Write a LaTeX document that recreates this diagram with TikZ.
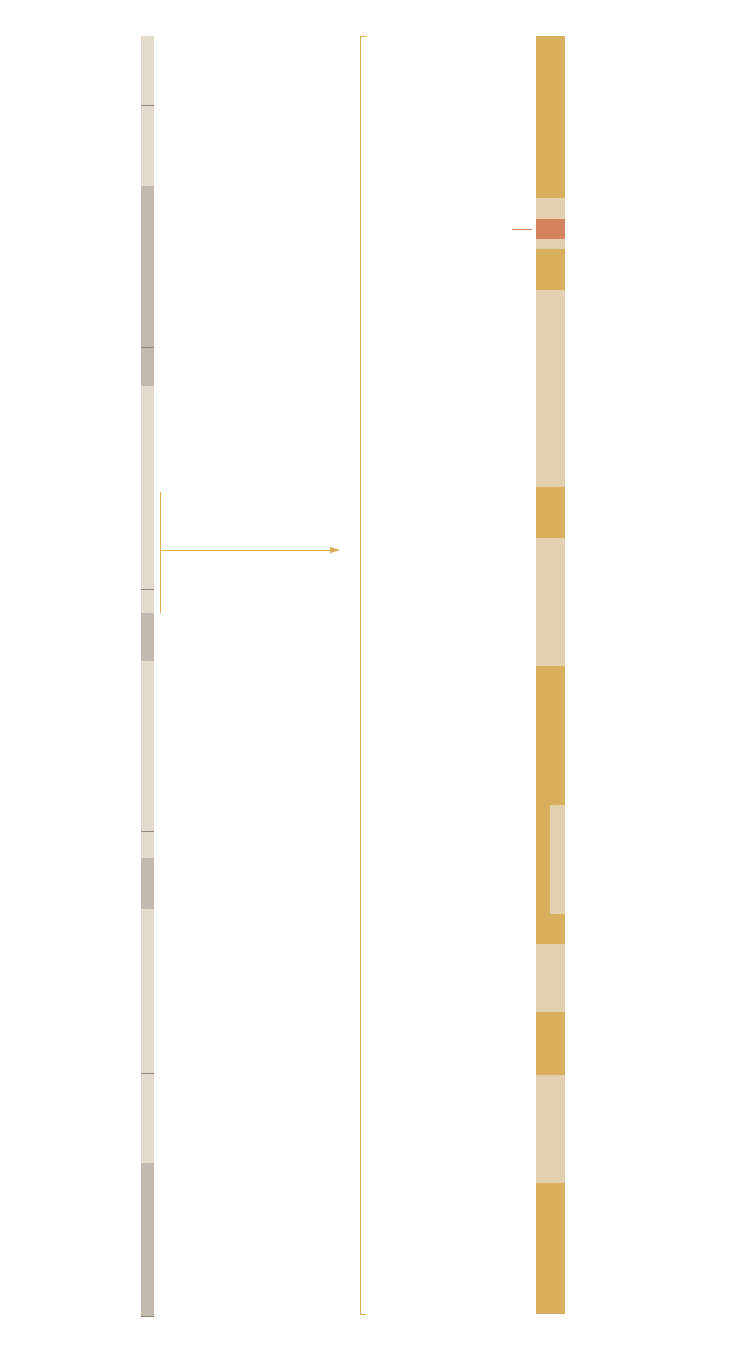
\documentclass[tikz,border=0pt]{standalone}
\usetikzlibrary{arrows.meta,calc}
\definecolor{lightL}{HTML}{E3DBCB}
\definecolor{grayL}{HTML}{C2BAAF}
\definecolor{tickL}{HTML}{8F877C}
\definecolor{goldR}{HTML}{D8AF5D}
\definecolor{lightR}{HTML}{E2D0B0}
\definecolor{redR}{HTML}{D4835E}
\definecolor{lineO}{HTML}{DDAE55}
\tikzset{
  segL/.style={fill=lightL,draw=none},
  segG/.style={fill=grayL,draw=none},
  segGold/.style={fill=goldR,draw=none},
  segLt/.style={fill=lightR,draw=none},
  segRed/.style={fill=redR,draw=none},
  tickline/.style={draw=tickL,line width=0.8pt},
  orange/.style={draw=lineO,line width=1pt},
}
\begin{document}
\begin{tikzpicture}[x=1pt,y=-1pt]
\useasboundingbox (0,0) rectangle (750,1366);
% left bar
\path[segL] (141,36) rectangle (154,186);
\path[segG] (141,186) rectangle (154,386);
\path[segL] (141,386) rectangle (154,613);
\path[segG] (141,613) rectangle (154,661);
\path[segL] (141,661) rectangle (154,858);
\path[segG] (141,858) rectangle (154,909);
\path[segL] (141,909) rectangle (154,1163);
\path[segG] (141,1163) rectangle (154,1316);
\foreach \yy in {105,347,589,831,1073,1316} \draw[tickline] (141,\yy) -- (154,\yy);
% bracket and arrow
\coordinate (bt) at (160,492);
\coordinate (bb) at (160,613);
\coordinate (bm) at (160,550);
\coordinate (at) at (340,550);
\draw[orange] (bt) -- (bb);
\draw[orange,-{Triangle[length=10pt,width=6pt]}] (bm) -- (at);
% middle bracket
\coordinate (mt) at (360,36);
\coordinate (mb) at (360,1314);
\draw[orange] ($(mt)+(6,0)$) -- (mt) -- (mb) -- ($(mb)+(6,0)$);
% right bar
\path[segGold] (536,36) rectangle (565,198);
\path[segLt] (536,198) rectangle (565,219);
\path[segRed] (536,219) rectangle (565,239);
\path[segLt] (536,239) rectangle (565,249);
\path[segGold] (536,249) rectangle (565,290);
\path[segLt] (536,290) rectangle (565,487);
\path[segGold] (536,487) rectangle (565,538);
\path[segLt] (536,538) rectangle (565,666);
\path[segGold] (536,666) rectangle (565,944);
\path[segLt] (550,805) rectangle (565,914);
\path[segLt] (536,944) rectangle (565,1012);
\path[segGold] (536,1012) rectangle (565,1075);
\path[segLt] (536,1075) rectangle (565,1183);
\path[segGold] (536,1183) rectangle (565,1314);
\draw[draw=redR,line width=1pt] (512,229) -- (532,229);
\end{tikzpicture}
\end{document}
